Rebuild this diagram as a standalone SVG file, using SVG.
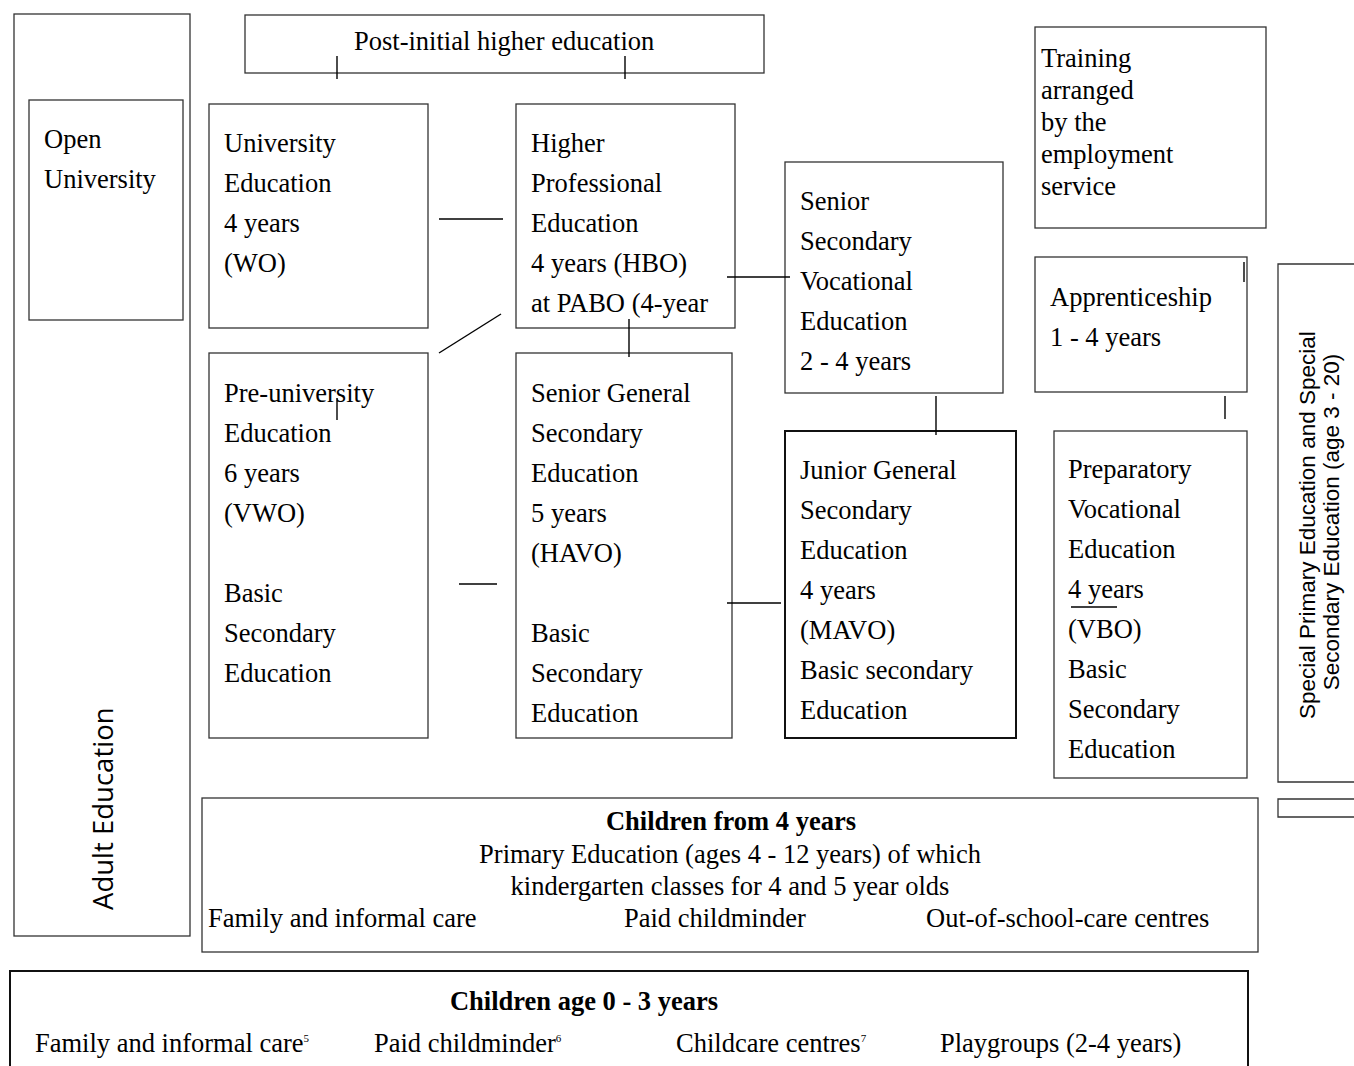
<svg xmlns="http://www.w3.org/2000/svg" width="1354" height="1066" viewBox="0 0 1354 1066">
<style>
  .box { fill: #ffffff; stroke: #333333; stroke-width: 1.3; }
  .heavy { fill: #ffffff; stroke: #111111; stroke-width: 2; }
  .t { font-family: "Liberation Serif", "Times New Roman", serif; font-size: 26.5px; fill: #000000; }
  .b { font-weight: bold; }
  .mid { text-anchor: middle; }
  .sup { font-size: 11px; }
  .sans { font-family: "Liberation Sans", Arial, sans-serif; font-size: 22.5px; fill: #000000; }
  .open { font-family: "Open Sans", "Noto Sans", sans-serif; font-size: 27.5px; fill: #000000; }
  .conn line { stroke: #000000; stroke-width: 1.4; }
</style>
<rect width="1354" height="1066" fill="#ffffff"/>

<g id="adult-education">
  <rect class="box" x="14" y="14" width="176" height="922"/>
  <text class="open" transform="translate(113,910) rotate(-90)">Adult Education</text>
</g>

<g id="open-university">
  <rect class="box" x="29" y="100" width="154" height="220"/>
  <text class="t" x="44" y="148">Open</text>
  <text class="t" x="44" y="188">University</text>
</g>

<g id="post-initial">
  <rect class="box" x="245" y="15" width="519" height="58"/>
  <text class="t" x="354" y="50">Post-initial higher education</text>
</g>

<g id="training">
  <rect class="box" x="1035" y="27" width="231" height="201"/>
  <text class="t" x="1041" y="67">Training</text>
  <text class="t" x="1041" y="99">arranged</text>
  <text class="t" x="1041" y="131">by the</text>
  <text class="t" x="1041" y="163">employment</text>
  <text class="t" x="1041" y="195">service</text>
</g>

<g id="university-education">
  <rect class="box" x="209" y="104" width="219" height="224"/>
  <text class="t" x="224" y="152">University</text>
  <text class="t" x="224" y="192">Education</text>
  <text class="t" x="224" y="232">4 years</text>
  <text class="t" x="224" y="272">(WO)</text>
</g>

<g id="higher-professional">
  <rect class="box" x="516" y="104" width="219" height="224"/>
  <text class="t" x="531" y="152">Higher</text>
  <text class="t" x="531" y="192">Professional</text>
  <text class="t" x="531" y="232">Education</text>
  <text class="t" x="531" y="272">4 years (HBO)</text>
  <text class="t" x="531" y="312">at PABO (4-year</text>
</g>

<g id="senior-secondary-vocational">
  <rect class="box" x="785" y="162" width="218" height="231"/>
  <text class="t" x="800" y="210">Senior</text>
  <text class="t" x="800" y="250">Secondary</text>
  <text class="t" x="800" y="290">Vocational</text>
  <text class="t" x="800" y="330">Education</text>
  <text class="t" x="800" y="370">2 - 4 years</text>
</g>

<g id="apprenticeship">
  <rect class="box" x="1035" y="257" width="212" height="135"/>
  <text class="t" x="1050" y="306">Apprenticeship</text>
  <text class="t" x="1050" y="346">1 - 4 years</text>
</g>

<g id="special-education">
  <path class="box" d="M1356,264 H1278 V782 H1356"/>
  <text class="sans mid" transform="translate(1315,522) rotate(-90)">
    <tspan x="0" y="0">Special Primary Education and Special</tspan>
    <tspan x="0" y="24">Secondary Education (age 3 - 20)</tspan>
  </text>
</g>

<g id="special-small">
  <path class="box" d="M1356,799 H1278 V817 H1356"/>
</g>

<g id="pre-university">
  <rect class="box" x="209" y="353" width="219" height="385"/>
  <text class="t" x="224" y="402">Pre-university</text>
  <text class="t" x="224" y="442">Education</text>
  <text class="t" x="224" y="482">6 years</text>
  <text class="t" x="224" y="522">(VWO)</text>
  <text class="t" x="224" y="602">Basic</text>
  <text class="t" x="224" y="642">Secondary</text>
  <text class="t" x="224" y="682">Education</text>
</g>

<g id="senior-general">
  <rect class="box" x="516" y="353" width="216" height="385"/>
  <text class="t" x="531" y="402">Senior General</text>
  <text class="t" x="531" y="442">Secondary</text>
  <text class="t" x="531" y="482">Education</text>
  <text class="t" x="531" y="522">5 years</text>
  <text class="t" x="531" y="562">(HAVO)</text>
  <text class="t" x="531" y="642">Basic</text>
  <text class="t" x="531" y="682">Secondary</text>
  <text class="t" x="531" y="722">Education</text>
</g>

<g id="junior-general">
  <rect class="heavy" x="785" y="431" width="231" height="307"/>
  <text class="t" x="800" y="479">Junior General</text>
  <text class="t" x="800" y="519">Secondary</text>
  <text class="t" x="800" y="559">Education</text>
  <text class="t" x="800" y="599">4 years</text>
  <text class="t" x="800" y="639">(MAVO)</text>
  <text class="t" x="800" y="679">Basic secondary</text>
  <text class="t" x="800" y="719">Education</text>
</g>

<g id="preparatory-vocational">
  <rect class="box" x="1054" y="431" width="193" height="347"/>
  <text class="t" x="1068" y="478">Preparatory</text>
  <text class="t" x="1068" y="518">Vocational</text>
  <text class="t" x="1068" y="558">Education</text>
  <text class="t" x="1068" y="598">4 years</text>
  <line x1="1071" y1="607" x2="1117" y2="607" stroke="#000" stroke-width="1.3"/>
  <text class="t" x="1068" y="638">(VBO)</text>
  <text class="t" x="1068" y="678">Basic</text>
  <text class="t" x="1068" y="718">Secondary</text>
  <text class="t" x="1068" y="758">Education</text>
</g>

<g id="primary-education">
  <rect class="box" x="202" y="798" width="1056" height="154"/>
  <text class="t b mid" x="731" y="830">Children from 4 years</text>
  <text class="t mid" x="730" y="863">Primary Education (ages 4 - 12 years) of which</text>
  <text class="t mid" x="730" y="895">kindergarten classes for 4 and 5 year olds</text>
  <text class="t" x="208" y="927">Family and informal care</text>
  <text class="t" x="624" y="927">Paid childminder</text>
  <text class="t" x="926" y="927">Out-of-school-care centres</text>
</g>

<g id="children-0-3">
  <path class="heavy" d="M10,1068 V971 H1248 V1068"/>
  <text class="t b mid" x="584" y="1010">Children age 0 - 3 years</text>
  <text class="t" x="35" y="1052">Family and informal care<tspan class="sup" dy="-10">5</tspan></text>
  <text class="t" x="374" y="1052">Paid childminder<tspan class="sup" dy="-10">6</tspan></text>
  <text class="t" x="676" y="1052">Childcare centres<tspan class="sup" dy="-10">7</tspan></text>
  <text class="t" x="940" y="1052">Playgroups (2-4 years)</text>
</g>

<g id="connectors" class="conn">
  <line x1="337" y1="56" x2="337" y2="79"/>
  <line x1="625" y1="56" x2="625" y2="79"/>
  <line x1="439" y1="219" x2="503" y2="219"/>
  <line x1="727" y1="277" x2="790" y2="277"/>
  <line x1="629" y1="319" x2="629" y2="357"/>
  <line x1="439" y1="353" x2="501" y2="314"/>
  <line x1="337" y1="398" x2="337" y2="420"/>
  <line x1="936" y1="396" x2="936" y2="435"/>
  <line x1="1244" y1="262" x2="1244" y2="282"/>
  <line x1="1225" y1="396" x2="1225" y2="419"/>
  <line x1="459" y1="584" x2="497" y2="584"/>
  <line x1="727" y1="603" x2="781" y2="603"/>
</g>
</svg>
